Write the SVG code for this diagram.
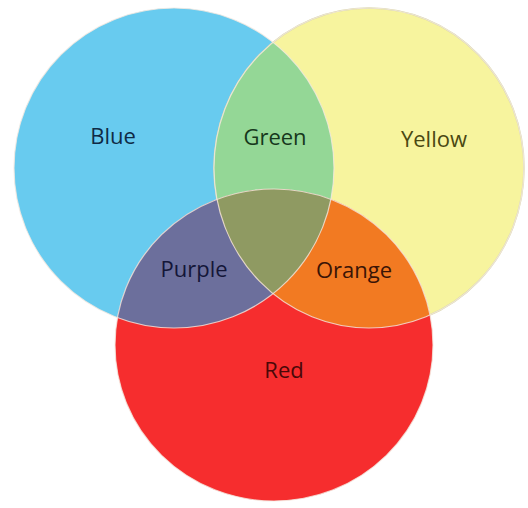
<svg xmlns="http://www.w3.org/2000/svg" width="528" height="508" viewBox="0 0 528 508">
  <defs>
    <clipPath id="cBlue"><ellipse cx="174" cy="168" rx="160" ry="160"/></clipPath>
    <clipPath id="cYellow"><ellipse cx="369" cy="168" rx="155" ry="160"/></clipPath>
    <clipPath id="cRed"><ellipse cx="274" cy="345" rx="159" ry="156"/></clipPath>
  </defs>
  <style>
    .lbl { font-family: "Open Sans", "Liberation Sans", sans-serif; font-size: 22px; text-anchor: middle; }
    .edge { fill: none; stroke: #f4e8e0; stroke-width: 1.2; stroke-opacity: 0.8; }
  </style>
  <rect width="528" height="508" fill="#ffffff"/>
  <g id="blue">
    <ellipse cx="174" cy="168" rx="160" ry="160" fill="#68CBEF"/>
  </g>
  <g id="yellow">
    <ellipse cx="369" cy="168" rx="155" ry="160" fill="#F7F49E" stroke="#d8d6a8" stroke-width="1.5"/>
  </g>
  <g id="red">
    <ellipse cx="274" cy="345" rx="159" ry="156" fill="#F62D2E"/>
  </g>
  <g id="green" clip-path="url(#cBlue)">
    <ellipse cx="369" cy="168" rx="155" ry="160" fill="#94D796"/>
  </g>
  <g id="purple" clip-path="url(#cBlue)">
    <ellipse cx="274" cy="345" rx="159" ry="156" fill="#6C6F9C"/>
  </g>
  <g id="orange" clip-path="url(#cYellow)">
    <ellipse cx="274" cy="345" rx="159" ry="156" fill="#F27A22"/>
  </g>
  <g id="center" clip-path="url(#cYellow)">
    <g clip-path="url(#cBlue)">
      <ellipse cx="274" cy="345" rx="159" ry="156" fill="#8F9A62"/>
    </g>
  </g>
  <g id="edges">
    <ellipse class="edge" cx="174" cy="168" rx="160" ry="160"/>
    <ellipse class="edge" cx="369" cy="168" rx="155" ry="160"/>
    <ellipse class="edge" cx="274" cy="345" rx="159" ry="156"/>
  </g>
  <g id="labels">
    <text class="lbl" x="113" y="144" fill="#0f2a45">Blue</text>
    <text class="lbl" x="275" y="145" fill="#16381c">Green</text>
    <text class="lbl" x="434" y="147" fill="#4a4812">Yellow</text>
    <text class="lbl" x="194" y="277" fill="#141638">Purple</text>
    <text class="lbl" x="354" y="278" fill="#3a1406">Orange</text>
    <text class="lbl" x="284" y="378" fill="#4a0808">Red</text>
  </g>
</svg>
